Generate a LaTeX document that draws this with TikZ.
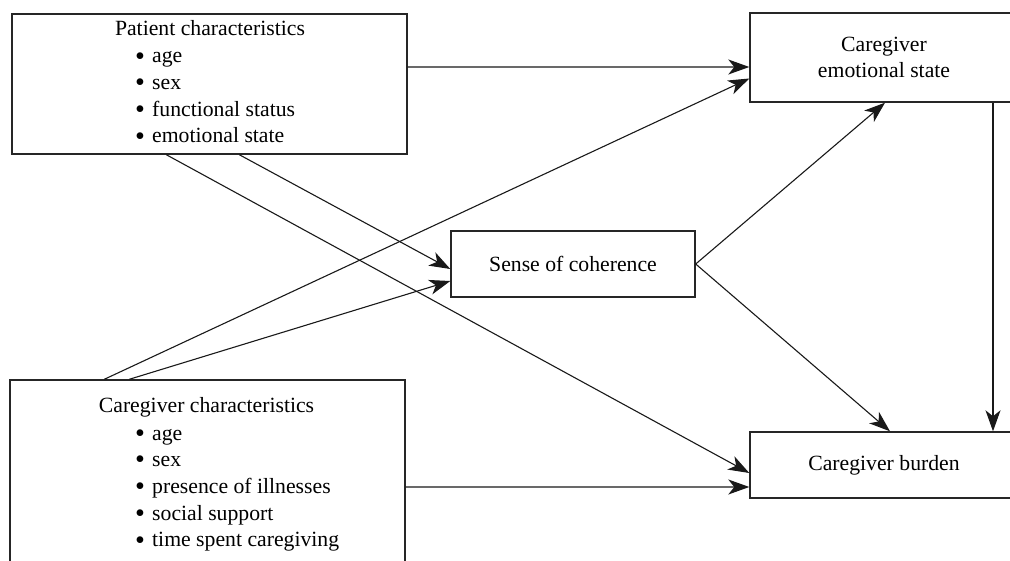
\documentclass[tikz,border=0pt]{standalone}
\usepackage{fontspec}
\setmainfont{Liberation Serif}
\usetikzlibrary{arrows.meta}
\newcommand{\bul}{\makebox[17bp][l]{\raisebox{-2.2bp}{\scalebox{1.3}{\textbullet}}}}
\begin{document}
\begin{tikzpicture}[x=1bp,y=-1bp,
  box/.style={draw=black!85,line width=1.4bp,rectangle,inner sep=0pt},
  txt/.style={font=\fontsize{21.8}{26.7}\selectfont,text=black,inner sep=0pt},
  conn/.style={line width=1.1bp,draw=black!90,-{Stealth[length=21bp,width=15bp,inset=6bp]}}]
\clip (0,0) rectangle (1010,561);
% boxes
\node[box,minimum width=395bp,minimum height=140bp] (pat) at (209.5,84) {};
\node[box,minimum width=395bp,minimum height=220bp] (cg) at (207.5,490) {};
\node[box,minimum width=268bp,minimum height=89bp,txt,align=center] (ces) at (884,57.5) {Caregiver\\emotional state};
\node[box,minimum width=244bp,minimum height=66bp,txt] (soc) at (573,264) {Sense of coherence};
\node[box,minimum width=268bp,minimum height=66bp,txt] (cb) at (884,465) {Caregiver burden};
% texts of the patient box
\node[txt,anchor=base] (pt) at (210,36) {Patient characteristics};
\node[txt,anchor=base west] (p1) at (135,63) {\bul age};
\node[txt,anchor=base west] (p2) at (135,89.7) {\bul sex};
\node[txt,anchor=base west] (p3) at (135,116.4) {\bul functional status};
\node[txt,anchor=base west] (p4) at (135,143) {\bul emotional state};
% texts of the caregiver box
\node[txt,anchor=base] (ct) at (206.5,412) {Caregiver characteristics};
\node[txt,anchor=base west] (c1) at (135,440) {\bul age};
\node[txt,anchor=base west] (c2) at (135,466.7) {\bul sex};
\node[txt,anchor=base west] (c3) at (135,493.4) {\bul presence of illnesses};
\node[txt,anchor=base west] (c4) at (135,520.1) {\bul social support};
\node[txt,anchor=base west] (c5) at (135,546.8) {\bul time spent caregiving};
% connectors
\draw[conn] ([yshift=17bp]pat.east) -- ([yshift=-9.5bp]ces.west);
\draw[conn] ([xshift=95bp]cg.north west) -- ([yshift=-21bp]ces.west);
\draw[conn] ([xshift=120bp]cg.north west) -- ([yshift=-17bp]soc.west);
\draw[conn] ([xshift=228bp]pat.south west) -- ([yshift=-5bp]soc.west);
\draw[conn] ([xshift=155bp]pat.south west) -- ([yshift=-8bp]cb.west);
\draw[conn] ([yshift=3bp]cg.east) -- ([yshift=-22bp]cb.west);
\draw[conn] (soc.east) -- ([xshift=1bp]ces.south);
\draw[conn] (soc.east) -- ([xshift=6bp]cb.north);
\draw[conn] ([xshift=109bp]ces.south) -- ([xshift=109bp]cb.north);
\end{tikzpicture}
\end{document}
